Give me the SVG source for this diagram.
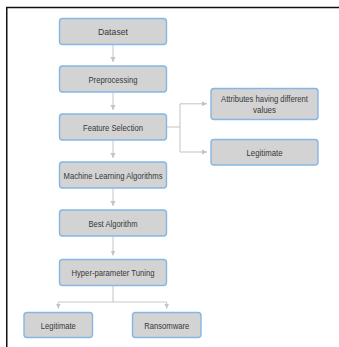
<svg xmlns="http://www.w3.org/2000/svg" width="339" height="347" viewBox="0 0 339 347">
<style>
.box{fill:#d3d3d3;stroke:#86b6e4;stroke-width:1.4}
.lbl{font-family:"Liberation Sans",Arial,sans-serif;font-size:9.5px;fill:#383838;text-anchor:middle}
.con{fill:none;stroke:#c9c9c9;stroke-width:1.1}
</style>
<defs>
<marker id="ah" markerUnits="userSpaceOnUse" markerWidth="6" markerHeight="6" refX="5" refY="3" orient="auto">
<path d="M0,0.5 L5,3 L0,5.5 Z" fill="#c4c4c4"/>
</marker>
</defs>
<rect width="339" height="347" fill="#fff"/>
<path d="M6.75,347 V7.5 H339" fill="none" stroke="#111" stroke-width="1.5"/>
<g id="connectors">
<path class="con" d="M113,45 V62" marker-end="url(#ah)"/>
<path class="con" d="M113,92.5 V110" marker-end="url(#ah)"/>
<path class="con" d="M113,140.5 V158" marker-end="url(#ah)"/>
<path class="con" d="M113,188.5 V206" marker-end="url(#ah)"/>
<path class="con" d="M113,236.5 V255.5" marker-end="url(#ah)"/>
<path class="con" d="M166.5,127 H180"/>
<path class="con" d="M180,103.8 V152"/>
<path class="con" d="M180,103.8 H207" marker-end="url(#ah)"/>
<path class="con" d="M180,152 H207" marker-end="url(#ah)"/>
<path class="con" d="M113,286 V302 M58.3,302 H166.7"/>
<path class="con" d="M58.3,302 V308.5" marker-end="url(#ah)"/>
<path class="con" d="M166.7,302 V308.5" marker-end="url(#ah)"/>
</g>
<g id="dataset"><rect class="box" x="59.5" y="18.5" width="107" height="26" rx="3"/><text class="lbl" x="113" y="35" textLength="30" lengthAdjust="spacingAndGlyphs">Dataset</text></g>
<g id="preprocessing"><rect class="box" x="59.5" y="66" width="107" height="26" rx="3"/><text class="lbl" x="113" y="82.5" textLength="49" lengthAdjust="spacingAndGlyphs">Preprocessing</text></g>
<g id="feature-selection"><rect class="box" x="59.5" y="114" width="107" height="26" rx="3"/><text class="lbl" x="113" y="130.5" textLength="60" lengthAdjust="spacingAndGlyphs">Feature Selection</text></g>
<g id="ml-algorithms"><rect class="box" x="59.5" y="162" width="107" height="26" rx="3"/><text class="lbl" x="113" y="178.5" textLength="99" lengthAdjust="spacingAndGlyphs">Machine Learning Algorithms</text></g>
<g id="best-algorithm"><rect class="box" x="59.5" y="210" width="107" height="26" rx="3"/><text class="lbl" x="113" y="226.5" textLength="49" lengthAdjust="spacingAndGlyphs">Best Algorithm</text></g>
<g id="hyper-parameter"><rect class="box" x="59.5" y="259.5" width="107" height="26" rx="3"/><text class="lbl" x="113" y="276" textLength="83" lengthAdjust="spacingAndGlyphs">Hyper-parameter Tuning</text></g>
<g id="attributes"><rect class="box" x="211" y="88.5" width="107" height="31" rx="3"/><text class="lbl" x="264.5" y="101.5" textLength="87" lengthAdjust="spacingAndGlyphs">Attributes having different</text><text class="lbl" x="264.5" y="112.5" textLength="23" lengthAdjust="spacingAndGlyphs">values</text></g>
<g id="legitimate-right"><rect class="box" x="211" y="139.5" width="107" height="25.5" rx="3"/><text class="lbl" x="264.5" y="156" textLength="36" lengthAdjust="spacingAndGlyphs">Legitimate</text></g>
<g id="legitimate-bottom"><rect class="box" x="24" y="312.5" width="68.5" height="25" rx="3"/><text class="lbl" x="58.3" y="328.5" textLength="35" lengthAdjust="spacingAndGlyphs">Legitimate</text></g>
<g id="ransomware"><rect class="box" x="132.5" y="312.5" width="68.5" height="25" rx="3"/><text class="lbl" x="166.7" y="328.5" textLength="45" lengthAdjust="spacingAndGlyphs">Ransomware</text></g>
</svg>
